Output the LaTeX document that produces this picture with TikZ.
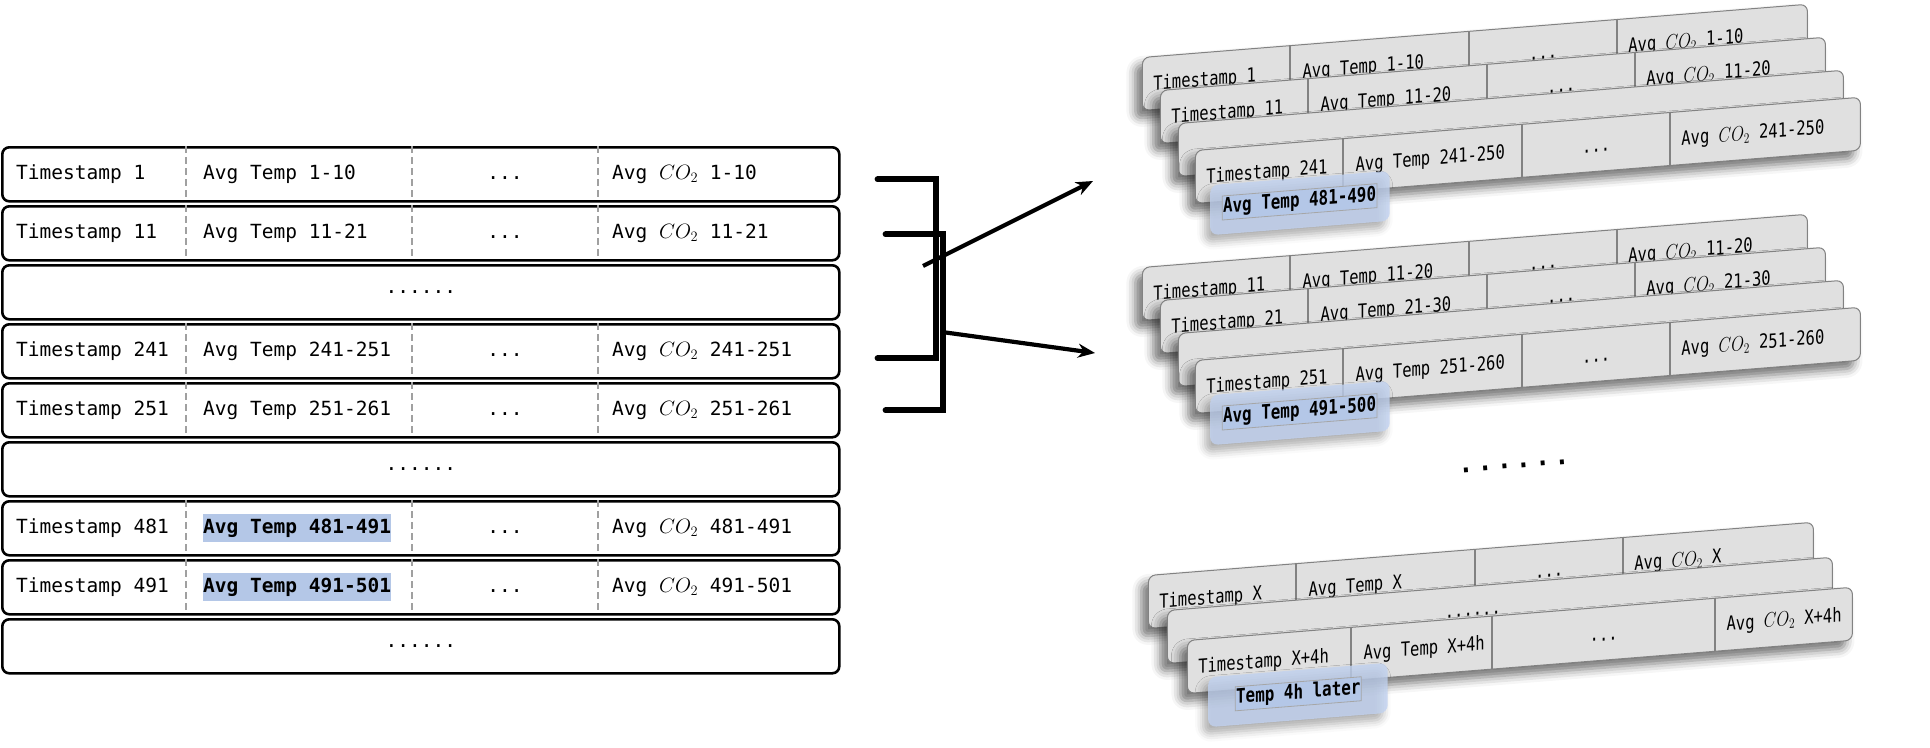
\documentclass[tikz,border=0pt]{standalone}
\usepackage{fontspec}
\usepackage{tikz}
\usetikzlibrary{arrows.meta,calc,shadows.blur}
\usepackage{xcolor}
\newfontfamily\tabfont{DejaVu Sans Mono}
\definecolor{hlblue}{RGB}{180,199,231}
\definecolor{tagblue}{RGB}{193,210,240}
\definecolor{cardgray}{RGB}{224,224,224}
\definecolor{sepgray}{RGB}{160,160,160}
\definecolor{cardline}{RGB}{130,130,130}

% one row of the left table: name, top, first cell, second cell, last cell, extra style
\newcommand{\tabrow}[6]{%
  \node[rowbox] (#1) at (1,#2) {};
  \draw[tabsep] (186,#2) -- (186,#2+54);
  \draw[tabsep] (412,#2) -- (412,#2+54);
  \draw[tabsep] (598,#2) -- (598,#2+54);
  \node[celltxt] (#1-a) at (16,#2+28) {#3};
  \node[celltxt,#6] (#1-b) at (203,#2+28) {#4};
  \node[celltxt,anchor=center] (#1-c) at (505,#2+28) {...};
  \node[celltxt] (#1-d) at (612,#2+28) {#5};
}

% one slanted card of the right side: name, top left, three dividers, four cells
\newcommand{\datacard}[9]{%
  \begin{scope}[shift={#2},yslant=0.08,xscale=0.7945,transform shape]
    \node[card] (#1) at (0,0) {};
    \draw[cardsep] (#3,0) -- (#3,53);
    \draw[cardsep] (#4,0) -- (#4,53);
    \draw[cardsep] (#5,0) -- (#5,53);
    \node[celltxt] (#1-a) at (14,29) {#6};
    \node[celltxt] (#1-b) at ({#3+16},29) {#7};
    \node[celltxt,anchor=center] (#1-c) at ({(#4+#5)/2},29) {#8};
    \node[celltxt] (#1-d) at ({#5+14},29) {#9};
  \end{scope}}

\begin{document}
\begin{tikzpicture}[
  x=1pt,y=-1pt,
  rowbox/.style={draw=black,line width=2.6pt,rounded corners=7pt,anchor=north west,
                 minimum width=837pt,minimum height=54pt,inner sep=0pt},
  tabsep/.style={draw=sepgray,line width=2pt,dash pattern=on 7pt off 4pt},
  celltxt/.style={anchor=west,inner sep=0pt,text height=14pt,text depth=4pt,
                  font=\tabfont\fontsize{19.5}{22}\selectfont},
  dotstxt/.style={inner sep=0pt,font=\tabfont\fontsize{19.5}{22}\selectfont},
  hlcell/.style={fill=hlblue,inner ysep=5pt,
                 font=\tabfont\bfseries\fontsize{19.5}{22}\selectfont},
  card/.style={draw=cardline,line width=1pt,fill=cardgray,rounded corners=7pt,
               anchor=north west,minimum width=837pt,minimum height=53pt,inner sep=0pt,
               blur shadow={shadow xshift=-7pt,shadow yshift=-8pt,
                            shadow blur radius=9pt,shadow opacity=55}},
  cardsep/.style={draw=cardline,line width=2pt},
  tagbox/.style={fill=tagblue,fill opacity=0.8,rounded corners=8pt,anchor=north west,
                 minimum width=226pt,minimum height=50pt,inner sep=0pt,
                 blur shadow={shadow xshift=-5pt,shadow yshift=-7pt,
                              shadow blur radius=8pt,shadow opacity=40}},
  tagtxt/.style={anchor=west,fill=hlblue,draw=gray!70,line width=0.8pt,
                 inner xsep=1pt,inner ysep=3pt,text height=14pt,text depth=4pt,
                 font=\tabfont\bfseries\fontsize{20}{22}\selectfont},
  brk/.style={line width=6pt,line cap=round,line join=miter},
  arr/.style={-{Stealth[length=17pt,width=14pt]},line width=4.2pt},
]
\useasboundingbox (0,0) rectangle (1930,747);

%% Left table: one row per timestamp
\tabrow{r1}{146}{Timestamp 1}{Avg Temp 1-10}{Avg $CO_2$ 1-10}{}
\tabrow{r2}{205}{Timestamp 11}{Avg Temp 11-21}{Avg $CO_2$ 11-21}{}
\node[rowbox] (r3) at (1,264) {};
\node[dotstxt] (r3-t) at (r3.center) {......};
\tabrow{r4}{323}{Timestamp 241}{Avg Temp 241-251}{Avg $CO_2$ 241-251}{}
\tabrow{r5}{382}{Timestamp 251}{Avg Temp 251-261}{Avg $CO_2$ 251-261}{}
\node[rowbox] (r6) at (1,441) {};
\node[dotstxt] (r6-t) at (r6.center) {......};
\tabrow{r7}{500}{Timestamp 481}{Avg Temp 481-491}{Avg $CO_2$ 481-491}{hlcell}
\tabrow{r8}{559}{Timestamp 491}{Avg Temp 491-501}{Avg $CO_2$ 491-501}{hlcell}
\node[rowbox] (r9) at (1,618) {};
\node[dotstxt] (r9-t) at (r9.center) {......};

%% Brackets joining rows 1/241 and 11/251
\coordinate (b1s) at ($(r1.east)+(37,5)$);
\coordinate (b1e) at ($(r4.east)+(37,7)$);
\coordinate (b2s) at ($(r2.east)+(45,1)$);
\coordinate (b2e) at ($(r5.east)+(45,0)$);
\draw[brk] (b1s) -- ++(58,0) |- (b1e);
\draw[brk] (b2s) -- ++(57,0) |- (b2e);

% Arrows to the two window stacks
\coordinate (a1s) at (923,266);
\coordinate (a1e) at (1093,181);
\coordinate (a2s) at (942,332);
\coordinate (a2e) at (1095,353);
\draw[arr] (a1s) -- (a1e);
\draw[arr] (a2s) -- (a2e);

%% Stack 1
\datacard{s1a}{(1142,57)}{186}{412}{598}{Timestamp 1}{Avg Temp 1-10}{...}{Avg $CO_2$ 1-10}
\datacard{s1b}{(1160,90)}{186}{412}{598}{Timestamp 11}{Avg Temp 11-20}{...}{Avg $CO_2$ 11-20}
\begin{scope}[shift={(1178,123)},yslant=0.08,xscale=0.7945,transform shape]
  \node[card] (s1c) at (0,0) {};
\end{scope}
\datacard{s1d}{(1195,150)}{186}{412}{598}{Timestamp 241}{Avg Temp 241-250}{...}{Avg $CO_2$ 241-250}
\begin{scope}[shift={(1210,185)},yslant=0.08,xscale=0.7945,transform shape]
  \node[tagbox] (t1) at (0,0) {};
  \node[tagtxt] (t1-t) at (15,24) {Avg Temp 481-490};
\end{scope}

%% Stack 2
\datacard{s2a}{(1142,267)}{186}{412}{598}{Timestamp 11}{Avg Temp 11-20}{...}{Avg $CO_2$ 11-20}
\datacard{s2b}{(1160,300)}{186}{412}{598}{Timestamp 21}{Avg Temp 21-30}{...}{Avg $CO_2$ 21-30}
\begin{scope}[shift={(1178,333)},yslant=0.08,xscale=0.7945,transform shape]
  \node[card] (s2c) at (0,0) {};
\end{scope}
\datacard{s2d}{(1195,360)}{186}{412}{598}{Timestamp 251}{Avg Temp 251-260}{...}{Avg $CO_2$ 251-260}
\begin{scope}[shift={(1210,395)},yslant=0.08,xscale=0.7945,transform shape]
  \node[tagbox] (t2) at (0,0) {};
  \node[tagtxt] (t2-t) at (15,24) {Avg Temp 491-500};
\end{scope}

% gap between the stacks
\node[font=\tabfont\fontsize{32}{32}\selectfont,inner sep=0pt,rotate=4.6] (gap) at (1514,466) {......};

%% Stack 3
\datacard{s3a}{(1148,575)}{186}{412}{598}{Timestamp X}{Avg Temp X}{...}{Avg $CO_2$ X}
\begin{scope}[shift={(1167,610)},yslant=0.08,xscale=0.7945,transform shape]
  \node[card] (s3b) at (0,0) {};
  \node[dotstxt] (s3b-t) at (385,29) {......};
\end{scope}
\datacard{s3c}{(1187,640)}{206}{384}{665}{Timestamp X+4h}{Avg Temp X+4h}{...}{Avg $CO_2$ X+4h}
\begin{scope}[shift={(1208,677)},yslant=0.08,xscale=0.7945,transform shape]
  \node[tagbox] (t3) at (0,0) {};
  \node[tagtxt] (t3-t) at (34,24) {Temp 4h later};
\end{scope}

\end{tikzpicture}
\end{document}
